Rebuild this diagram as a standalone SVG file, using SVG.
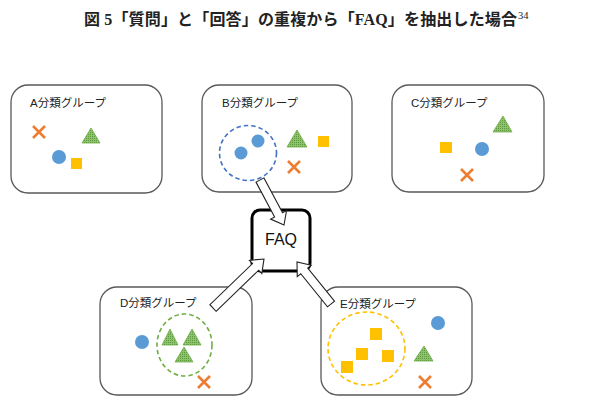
<svg xmlns="http://www.w3.org/2000/svg" width="598" height="407" viewBox="0 0 598 407">
<defs>
<pattern id="dots" width="2" height="2" patternUnits="userSpaceOnUse">
<rect width="2" height="2" fill="#8DC26E"/>
<rect width="1" height="1" fill="#5E9A3C"/>
</pattern>
<style>
.box{fill:#fff;stroke:#595959;stroke-width:1.3}
.lbl{font-family:"Liberation Sans","Noto Sans CJK JP",sans-serif;font-size:11.5px;fill:#222}
.x{stroke:#ED7D31;stroke-width:2.6;fill:none}
.c{fill:#5B9BD5}
.s{fill:#FFC000}
.t{fill:url(#dots);stroke:#70AD47;stroke-width:0.8}
.dash{fill:none;stroke-width:1.6;stroke-dasharray:4.5 3}
.arr{fill:#fff;stroke:#222;stroke-width:1.1;stroke-linejoin:miter}
</style>
</defs>
<rect width="598" height="407" fill="#fff"/>
<g id="title">
<text x="84" y="25" font-family="'Liberation Serif','Noto Sans CJK JP',serif" font-weight="bold" font-size="16" textLength="433" lengthAdjust="spacing" fill="#222">図 5「質問」と「回答」の重複から「FAQ」を抽出した場合</text>
<text x="518" y="19" font-family="'Liberation Serif',serif" font-size="10.5" fill="#222">34</text>
</g>
<g id="groupA">
<rect class="box" x="11" y="85" width="151" height="108" rx="17"/>
<text class="lbl" x="30" y="107">A分類グループ</text>
<path class="x" d="M33 126L45 138M45 126L33 138"/>
<polygon class="t" points="91,128 100,143 82,143"/>
<circle class="c" cx="59" cy="157" r="7"/>
<rect class="s" x="71" y="158" width="11" height="11"/>
</g>
<g id="groupB">
<rect class="box" x="202" y="85" width="150" height="107" rx="17"/>
<text class="lbl" x="222" y="107">B分類グループ</text>
<ellipse class="dash" cx="248" cy="153" rx="28.5" ry="27.5" stroke="#4472C4"/>
<circle class="c" cx="258" cy="141" r="6.5"/>
<circle class="c" cx="241" cy="153" r="6.5"/>
<polygon class="t" points="297,130 307,147 287,147"/>
<rect class="s" x="318" y="136" width="11" height="11"/>
<path class="x" d="M288 161L300 173M300 161L288 173"/>
</g>
<g id="groupC">
<rect class="box" x="392" y="85" width="152" height="107" rx="17"/>
<text class="lbl" x="411" y="107">C分類グループ</text>
<polygon class="t" points="503,116 512,132 493,132"/>
<rect class="s" x="440" y="142" width="12" height="11"/>
<circle class="c" cx="482" cy="149" r="7"/>
<path class="x" d="M461 169L473 181M473 169L461 181"/>
</g>
<g id="groupD">
<rect class="box" x="100" y="287" width="152" height="108" rx="17"/>
<text class="lbl" x="120" y="307">D分類グループ</text>
<ellipse class="dash" cx="184.5" cy="345" rx="27.5" ry="31" stroke="#70AD47"/>
<circle class="c" cx="142" cy="342" r="7"/>
<polygon class="t" points="170,329 178,345 162,345"/>
<polygon class="t" points="192,329 201,345 183,345"/>
<polygon class="t" points="184,347 193,362 175,362"/>
<path class="x" d="M198 376L210 388M210 376L198 388"/>
</g>
<g id="groupE">
<rect class="box" x="321" y="287" width="151" height="108" rx="17"/>
<text class="lbl" x="340" y="308">E分類グループ</text>
<ellipse class="dash" cx="366.5" cy="348.5" rx="38.5" ry="36.5" stroke="#FFC000"/>
<rect class="s" x="370" y="328" width="12" height="12"/>
<rect class="s" x="356" y="348" width="12" height="12"/>
<rect class="s" x="382" y="350" width="12" height="12"/>
<rect class="s" x="341" y="361" width="12" height="12"/>
<circle class="c" cx="438" cy="323" r="7"/>
<polygon class="t" points="424,346 433,361 414,361"/>
<path class="x" d="M419 376L431 388M431 376L419 388"/>
</g>
<g id="faq">
<rect x="252" y="210" width="58" height="61" rx="8" fill="#fff" stroke="#000" stroke-width="3"/>
<text x="281" y="245" text-anchor="middle" font-family="'Liberation Sans','Noto Sans',sans-serif" font-size="16" fill="#111">FAQ</text>
</g>
<g id="connectors">
<polygon class="arr" points="256.03,182.12 274.62,216.97 270.65,219.09 284,225 286.53,210.61 282.56,212.73 263.97,177.88"/>
<polygon class="arr" points="216.08,311.28 258.71,270.16 261.8,273.43 264,259 249.46,260.33 252.55,263.6 209.92,304.72"/>
<polygon class="arr" points="334.5,301.17 307.74,268.11 311.23,265.28 297,262 297.25,276.6 300.74,273.77 327.5,306.83"/>
</g>
</svg>
